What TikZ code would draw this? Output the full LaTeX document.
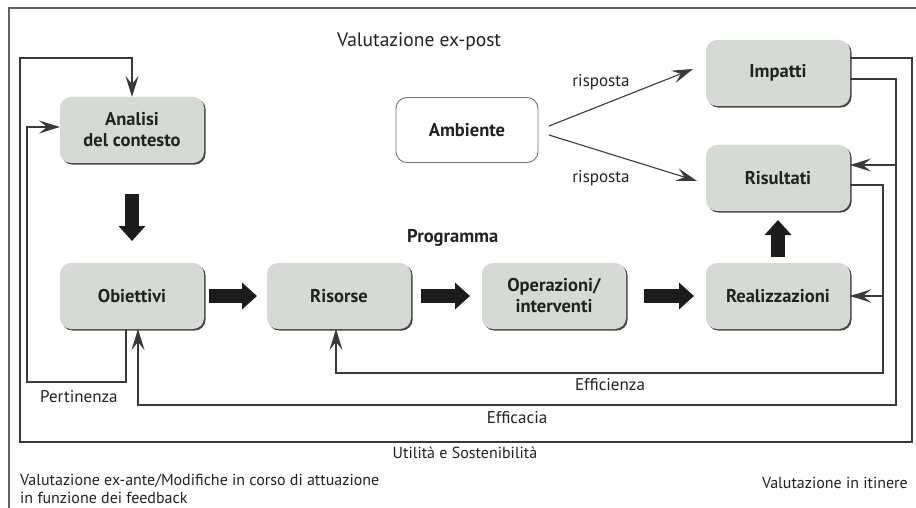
\documentclass[tikz,border=0pt]{standalone}
\usepackage{fontspec}
\setmainfont{PT Sans}
\usetikzlibrary{arrows.meta,shadows}
\definecolor{boxgray}{HTML}{D5DAD4}
\definecolor{shadowgray}{HTML}{454845}
\definecolor{linegray}{HTML}{3A3A3A}
\definecolor{framegray}{HTML}{5E645C}
\definecolor{blockblack}{HTML}{1C1C1C}
\definecolor{txt}{HTML}{222222}
\tikzset{
  box/.style={rounded corners=11pt, fill=boxgray, minimum width=144pt, minimum height=66pt,
    align=center, inner sep=2pt, outer sep=0pt, text=txt,
    font=\bfseries\fontsize{18.5}{21}\selectfont,
    drop shadow={shadow xshift=1.6pt, shadow yshift=-1.6pt, fill=shadowgray, opacity=1}},
  wbox/.style={rounded corners=11pt, fill=white, draw=black!55, line width=0.9pt,
    minimum width=142pt, minimum height=65pt, align=center, outer sep=0pt, text=txt,
    font=\bfseries\fontsize{18.5}{21}\selectfont},
  fb/.style={draw=linegray, line width=1.3pt, -{Stealth[length=21pt,width=13pt,inset=8pt]}},
  blk/.style={draw=blockblack, line width=14pt, -{Triangle[width=26pt,length=15pt]}},
  lbl/.style={font=\fontsize{17}{18}\selectfont, text=txt, inner sep=0pt},
  slbl/.style={font=\fontsize{16}{18}\selectfont, text=txt, inner sep=0pt},
  blbl/.style={font=\bfseries\fontsize{18.5}{19}\selectfont, text=txt, inner sep=0pt},
}
\begin{document}
\begin{tikzpicture}[x=1pt,y=-1pt]
\useasboundingbox[fill=white] (0,0) rectangle (916,508);
% frame
\draw[framegray, line width=2pt] (9,508) -- (9,8) -- (916,8);

% nodes
\node[box] (ana) at (132,130) {Analisi\\del contesto};
\node[box] (obi) at (132,296) {Obiettivi};
\node[box] (res) at (339,296) {Risorse};
\node[box] (ope) at (554,296) {Operazioni/\\interventi};
\node[box] (rea) at (778,296) {Realizzazioni};
\node[box] (risu) at (778,178) {Risultati};
\node[box] (imp) at (778,73) {Impatti};
\node[wbox] (amb) at (467,130) {Ambiente};

% labels
\node[lbl, font=\fontsize{19.5}{20}\selectfont, anchor=west] (vexpost) at (337,42) {Valutazione ex-post};
\node[lbl] (risp1) at (601,82) {risposta};
\node[lbl] (risp2) at (601,178) {risposta};
\node[blbl, anchor=west] (prog) at (407,238) {Programma};
\node[lbl, anchor=west] (pert) at (40,397) {Pertinenza};
\node[lbl] (effz) at (610,385) {Efficienza};
\node[lbl] (effc) at (517,418) {Efficacia};
\node[slbl] (util) at (465,453) {Utilità e Sostenibilità};
\node[slbl, anchor=north west, align=left] (exante) at (20,474) {Valutazione ex-ante/Modifiche in corso di attuazione\\in funzione dei feedback};
\node[slbl, anchor=east] (itin) at (908,483) {Valutazione in itinere};

% block arrows
\draw[blk, shorten <=31pt, shorten >=22pt] (ana.south) -- (obi.north);
\draw[blk, shorten <=5pt, shorten >=10pt] (obi.east) -- (res.west);
\draw[blk, shorten <=10pt, shorten >=12pt] (res.east) -- (ope.west);
\draw[blk, shorten <=18pt, shorten >=12pt] (ope.east) -- (rea.west);
\draw[blk, shorten <=6pt, shorten >=9pt] (rea.north) -- (risu.south);

% Ambiente responses
\draw[fb, line width=1.1pt] ([xshift=11pt,yshift=4pt]amb.east) -- ([xshift=-13pt,yshift=4pt]imp.west);
\draw[fb, line width=1.1pt] ([xshift=11pt,yshift=-5pt]amb.east) -- ([xshift=-9pt,yshift=-3pt]risu.west);

% Pertinenza loop
\draw[fb] ([xshift=-6pt]obi.south) |- (27,382) |- ([yshift=3pt]ana.west);

% Utilita e Sostenibilita loop
\draw[fb, line width=1.7pt] ([yshift=15pt]imp.east) -| (912,442) -| (20,58) -| (ana.north);

% Efficacia loop
\draw[fb] ([yshift=-6pt]imp.east) -| (896,405) -| ([xshift=6pt]obi.south);
\coordinate (effcbr) at (896,165);
\draw[fb] (effcbr) -- (effcbr -| risu.east);

% Efficienza loop
\draw[fb] ([yshift=-7pt]risu.east) -| (883,373) -| ([xshift=-3pt]res.south);
\coordinate (effzbr) at (883,296);
\draw[fb] (effzbr) -- (effzbr -| rea.east);
\end{tikzpicture}
\end{document}
